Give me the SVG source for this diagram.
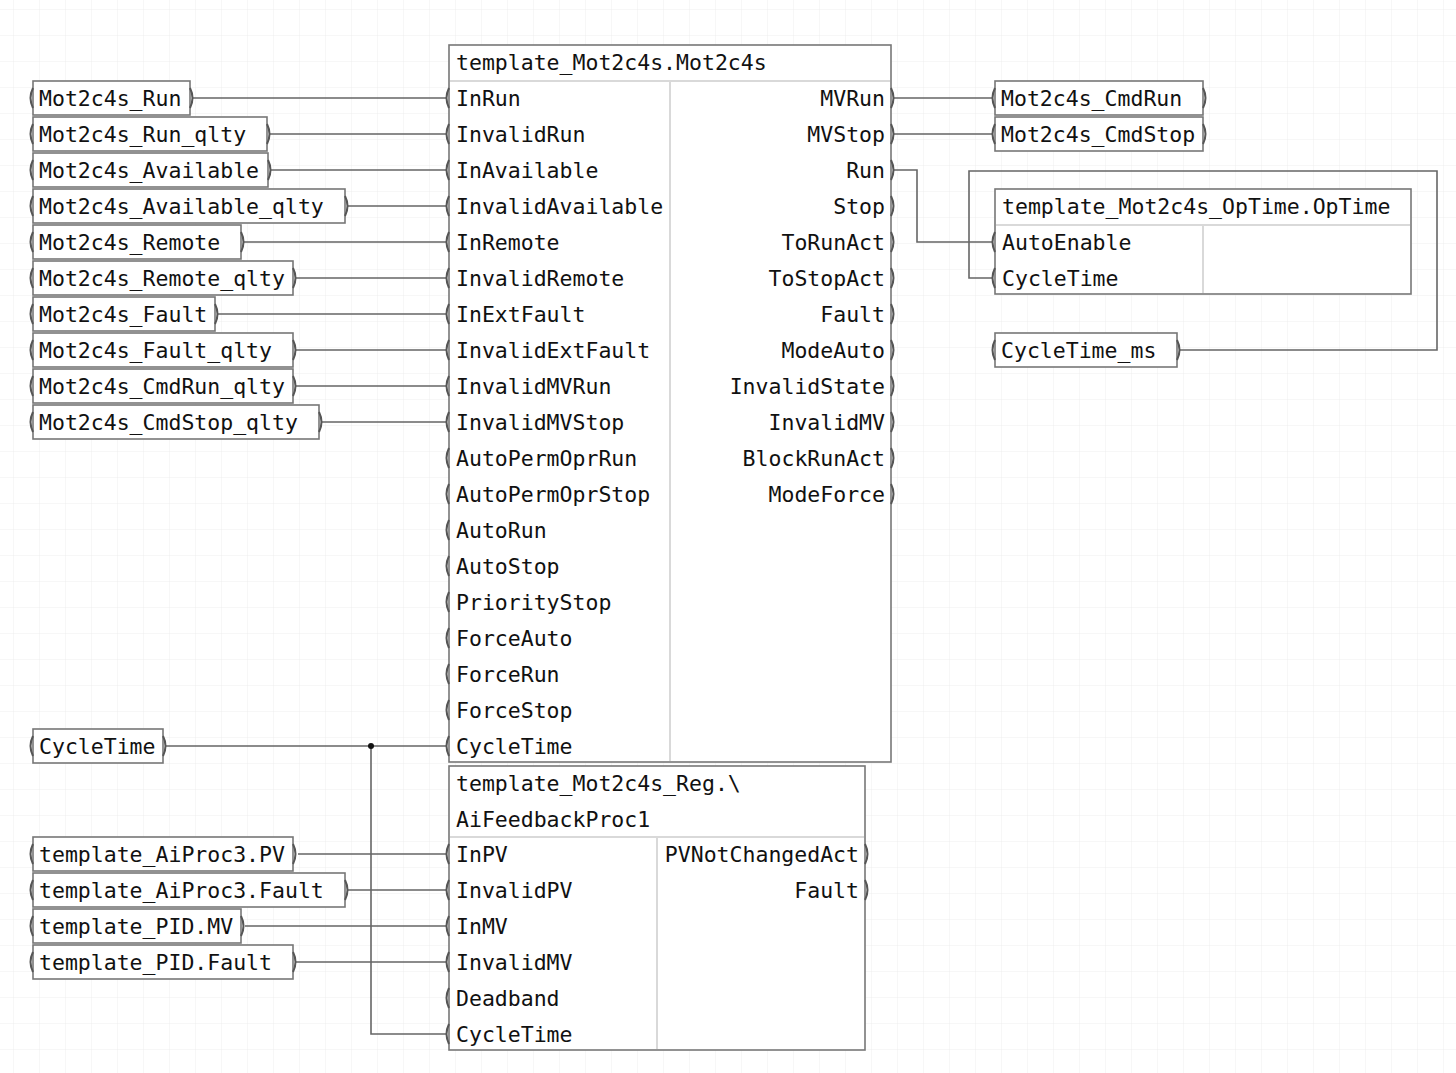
<svg xmlns="http://www.w3.org/2000/svg" width="1456" height="1073" viewBox="0 0 1456 1073">
<style>
text{font-family:"DejaVu Sans Mono","Liberation Mono",monospace;font-size:21.5px;fill:#111}
.box{fill:#fff;stroke:#777;stroke-width:1.6}
.sep{stroke:#ccc;stroke-width:1.5}
.w{fill:none;stroke:#666;stroke-width:1.6}
.p{fill:none;stroke:#555;stroke-width:2}
.r{text-anchor:end}
</style>
<defs>
<pattern id="g" width="26" height="26" patternUnits="userSpaceOnUse" x="14" y="10"><path d="M26 0V26M0 26H26" fill="none" stroke="#eee" stroke-width="1"/></pattern>
</defs>
<rect width="1456" height="1073" fill="#fff"/>
<rect width="1456" height="1073" fill="url(#g)"/>
<g id="connectors">
<path class="w" d="M192 98H447M270 134H447M271 170H447M348 206H447M244 242H447M296 278H447M218 314H447M296 350H447M296 386H447M322 422H447"/>
<path class="w" d="M166 746H447M371 746V1034H447"/>
<circle cx="371" cy="746" r="3" fill="#111"/>
<path class="w" d="M298 854H447M348 890H447M245 926H447M296 962H447"/>
<path class="w" d="M894 98H993M894 134H993M894 170H917V242H993M1180 350H1437V171H969V278H993"/>
</g>
<g id="main">
<rect class="box" x="449" y="45" width="442" height="717"/>
<line class="sep" x1="450" y1="81" x2="890" y2="81"/><line class="sep" x1="670" y1="82" x2="670" y2="761"/>
<text x="456" y="70">template_Mot2c4s.Mot2c4s</text>
<g>
<text x="456" y="106">InRun</text><text x="456" y="142">InvalidRun</text><text x="456" y="178">InAvailable</text><text x="456" y="214">InvalidAvailable</text><text x="456" y="250">InRemote</text><text x="456" y="286">InvalidRemote</text><text x="456" y="322">InExtFault</text><text x="456" y="358">InvalidExtFault</text><text x="456" y="394">InvalidMVRun</text><text x="456" y="430">InvalidMVStop</text><text x="456" y="466">AutoPermOprRun</text><text x="456" y="502">AutoPermOprStop</text><text x="456" y="538">AutoRun</text><text x="456" y="574">AutoStop</text><text x="456" y="610">PriorityStop</text><text x="456" y="646">ForceAuto</text><text x="456" y="682">ForceRun</text><text x="456" y="718">ForceStop</text><text x="456" y="754">CycleTime</text>
</g>
<g class="r">
<text class="r" x="885" y="106">MVRun</text><text class="r" x="885" y="142">MVStop</text><text class="r" x="885" y="178">Run</text><text class="r" x="885" y="214">Stop</text><text class="r" x="885" y="250">ToRunAct</text><text class="r" x="885" y="286">ToStopAct</text><text class="r" x="885" y="322">Fault</text><text class="r" x="885" y="358">ModeAuto</text><text class="r" x="885" y="394">InvalidState</text><text class="r" x="885" y="430">InvalidMV</text><text class="r" x="885" y="466">BlockRunAct</text><text class="r" x="885" y="502">ModeForce</text>
</g>
<path class="p" d="M449 88q-5 10 0 20M449 124q-5 10 0 20M449 160q-5 10 0 20M449 196q-5 10 0 20M449 232q-5 10 0 20M449 268q-5 10 0 20M449 304q-5 10 0 20M449 340q-5 10 0 20M449 376q-5 10 0 20M449 412q-5 10 0 20M449 448q-5 10 0 20M449 484q-5 10 0 20M449 520q-5 10 0 20M449 556q-5 10 0 20M449 592q-5 10 0 20M449 628q-5 10 0 20M449 664q-5 10 0 20M449 700q-5 10 0 20M449 736q-5 10 0 20"/>
<path class="p" d="M891 88q5 10 0 20M891 124q5 10 0 20M891 160q5 10 0 20M891 196q5 10 0 20M891 232q5 10 0 20M891 268q5 10 0 20M891 304q5 10 0 20M891 340q5 10 0 20M891 376q5 10 0 20M891 412q5 10 0 20M891 448q5 10 0 20M891 484q5 10 0 20"/>
</g>
<g id="aifeedback">
<rect class="box" x="449" y="766" width="416" height="284"/>
<line class="sep" x1="450" y1="837" x2="864" y2="837"/><line class="sep" x1="657" y1="838" x2="657" y2="1049"/>
<text x="456" y="791">template_Mot2c4s_Reg.\</text><text x="456" y="827">AiFeedbackProc1</text>
<text x="456" y="862">InPV</text><text x="456" y="898">InvalidPV</text><text x="456" y="934">InMV</text><text x="456" y="970">InvalidMV</text><text x="456" y="1006">Deadband</text><text x="456" y="1042">CycleTime</text>
<text class="r" x="859" y="862">PVNotChangedAct</text><text class="r" x="859" y="898">Fault</text>
<path class="p" d="M449 844q-5 10 0 20M449 880q-5 10 0 20M449 916q-5 10 0 20M449 952q-5 10 0 20M449 988q-5 10 0 20M449 1024q-5 10 0 20M865 844q5 10 0 20M865 880q5 10 0 20"/>
</g>
<g id="optime">
<rect class="box" x="995" y="189" width="416" height="105"/>
<line class="sep" x1="996" y1="225" x2="1410" y2="225"/><line class="sep" x1="1203" y1="226" x2="1203" y2="293"/>
<text x="1002" y="214">template_Mot2c4s_OpTime.OpTime</text>
<text x="1002" y="250">AutoEnable</text><text x="1002" y="286">CycleTime</text>
<path class="p" d="M995 232q-5 10 0 20M995 268q-5 10 0 20"/>
</g>
<g id="outvars">
<rect class="box" x="995" y="81" width="208" height="34"/><text x="1001" y="106">Mot2c4s_CmdRun</text>
<rect class="box" x="995" y="117" width="208" height="34"/><text x="1001" y="142">Mot2c4s_CmdStop</text>
<rect class="box" x="995" y="333" width="182" height="34"/><text x="1001" y="358">CycleTime_ms</text>
<path class="p" d="M995 88q-5 10 0 20M1203 88q5 10 0 20M995 124q-5 10 0 20M1203 124q5 10 0 20M995 340q-5 10 0 20M1177 340q5 10 0 20"/>
</g>
<g id="invars">
<rect class="box" x="33" y="81" width="157" height="34"/><text x="39" y="106">Mot2c4s_Run</text>
<rect class="box" x="33" y="117" width="234" height="34"/><text x="39" y="142">Mot2c4s_Run_qlty</text>
<rect class="box" x="33" y="153" width="235" height="34"/><text x="39" y="178">Mot2c4s_Available</text>
<rect class="box" x="33" y="189" width="312" height="34"/><text x="39" y="214">Mot2c4s_Available_qlty</text>
<rect class="box" x="33" y="225" width="208" height="34"/><text x="39" y="250">Mot2c4s_Remote</text>
<rect class="box" x="33" y="261" width="260" height="34"/><text x="39" y="286">Mot2c4s_Remote_qlty</text>
<rect class="box" x="33" y="297" width="182" height="34"/><text x="39" y="322">Mot2c4s_Fault</text>
<rect class="box" x="33" y="333" width="260" height="34"/><text x="39" y="358">Mot2c4s_Fault_qlty</text>
<rect class="box" x="33" y="369" width="260" height="34"/><text x="39" y="394">Mot2c4s_CmdRun_qlty</text>
<rect class="box" x="33" y="405" width="286" height="34"/><text x="39" y="430">Mot2c4s_CmdStop_qlty</text>
<rect class="box" x="33" y="729" width="130" height="34"/><text x="39" y="754">CycleTime</text>
<rect class="box" x="33" y="837" width="260" height="34"/><text x="39" y="862">template_AiProc3.PV</text>
<rect class="box" x="33" y="873" width="312" height="34"/><text x="39" y="898">template_AiProc3.Fault</text>
<rect class="box" x="33" y="909" width="208" height="34"/><text x="39" y="934">template_PID.MV</text>
<rect class="box" x="33" y="945" width="260" height="34"/><text x="39" y="970">template_PID.Fault</text>
<path class="p" d="M33 88q-5 10 0 20M190 88q5 10 0 20M33 124q-5 10 0 20M267 124q5 10 0 20M33 160q-5 10 0 20M268 160q5 10 0 20M33 196q-5 10 0 20M345 196q5 10 0 20M33 232q-5 10 0 20M241 232q5 10 0 20M33 268q-5 10 0 20M293 268q5 10 0 20M33 304q-5 10 0 20M215 304q5 10 0 20M33 340q-5 10 0 20M293 340q5 10 0 20M33 376q-5 10 0 20M293 376q5 10 0 20M33 412q-5 10 0 20M319 412q5 10 0 20M33 736q-5 10 0 20M163 736q5 10 0 20M33 844q-5 10 0 20M293 844q5 10 0 20M33 880q-5 10 0 20M345 880q5 10 0 20M33 916q-5 10 0 20M241 916q5 10 0 20M33 952q-5 10 0 20M293 952q5 10 0 20"/>
</g>
</svg>
